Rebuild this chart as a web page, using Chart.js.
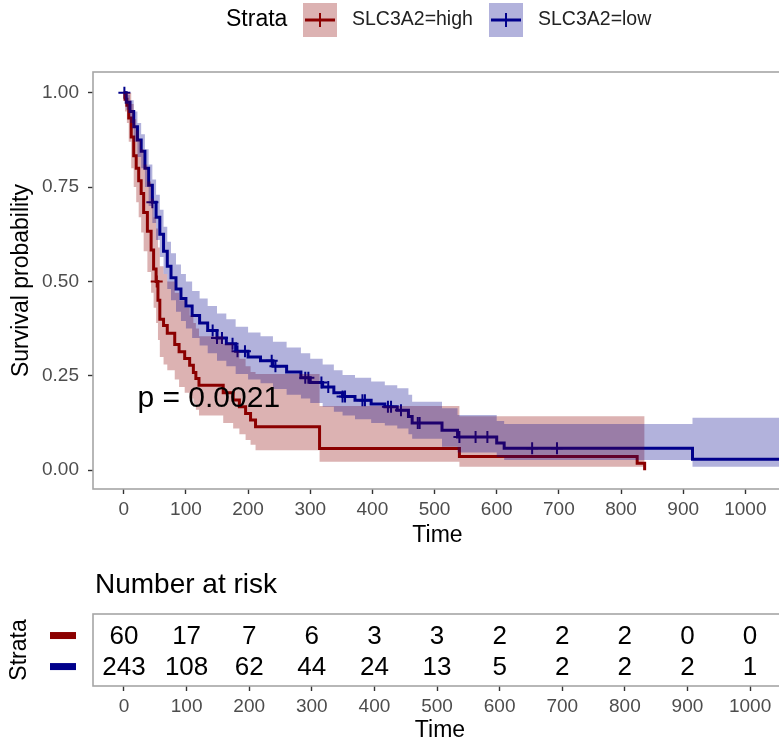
<!DOCTYPE html>
<html>
<head>
<meta charset="utf-8">
<script src="https://cdn.jsdelivr.net/npm/chart.js@4.4.0/dist/chart.umd.min.js"></script>
<style>
html, body { margin:0; padding:0; background:#fff; overflow:hidden; width:779px; height:749px; }
#wrapPlot { position:absolute; left:0; top:0; width:790px; height:560px; }
#wrapRisk { position:absolute; left:0; top:560px; width:790px; height:189px; }
</style>
</head>
<body>
<div id="wrapPlot"><canvas id="canvasPlot" width="790" height="560"></canvas></div>
<div id="wrapRisk"><canvas id="canvasRisk" width="790" height="189"></canvas></div>
<script>
// SLC3A2=high  (KM steps)
var highTime  = [0, 2, 5, 8, 12, 16, 20, 24, 28, 32, 38, 44, 48, 52, 55, 58, 64, 70, 82, 89, 98, 106, 112, 116, 121, 160, 176, 186, 196, 204, 212, 315, 540, 826, 838];
var highSurv  = [1.0, .983, .967, .933, .883, .833, .800, .767, .733, .683, .633, .583, .533, .500, .450, .400, .383, .363, .333, .314, .296, .278, .259, .243, .225, .205, .186, .168, .150, .133, .115, .057, .036, .018, 0];
var highUpper = [1, 1, 1, 1, .97, .93, .90, .875, .85, .81, .765, .72, .67, .64, .59, .54, .52, .50, .47, .45, .43, .41, .39, .375, .355, .335, .315, .295, .275, .26, .255, .17, .143, .143, .143];
var highLower = [1, .95, .92, .87, .80, .75, .71, .67, .63, .58, .525, .47, .43, .39, .345, .30, .28, .265, .24, .22, .205, .19, .175, .16, .145, .125, .11, .095, .08, .067, .053, .022, .009, .009, .009];
var highCensor = [53];

// SLC3A2=low
var lowTime  = [0, 4, 10, 16, 22, 28, 34, 40, 46, 52, 58, 64, 70, 76, 84, 92, 100, 110, 122, 135, 150, 165, 180, 200, 220, 240, 262, 285, 300, 320, 338, 352, 372, 398, 420, 440, 458, 464, 512, 537, 600, 612, 915, 1070];
var lowSurv  = [1.00, .975, .95, .91, .875, .845, .80, .755, .71, .67, .625, .58, .54, .51, .48, .455, .435, .41, .39, .37, .35, .335, .315, .30, .29, .275, .26, .245, .232, .22, .205, .195, .185, .175, .168, .159, .142, .125, .106, .088, .072, .058, .029, .029];
var lowUpper = [1.00, .995, .98, .95, .92, .89, .85, .81, .77, .73, .69, .645, .605, .575, .545, .52, .50, .475, .455, .435, .415, .40, .38, .365, .355, .34, .325, .31, .295, .28, .265, .252, .245, .235, .225, .217, .2, .181, .164, .146, .13, .122, .139, .139];
var lowLower = [1.00, .955, .92, .87, .83, .80, .75, .70, .655, .61, .565, .52, .48, .45, .42, .395, .375, .35, .33, .31, .29, .275, .255, .24, .23, .215, .20, .19, .178, .168, .155, .145, .135, .125, .118, .11, .095, .083, .062, .047, .035, .027, .009, .009];
var lowCensor = [1, 46, 143, 150, 158, 175, 183, 195, 238, 244, 292, 297, 318, 329, 352, 356, 384, 388, 425, 430, 446, 473, 476, 540, 566, 585, 657, 697];

// number at risk
var riskTimes = [0, 100, 200, 300, 400, 500, 600, 700, 800, 900, 1000];
var riskHigh  = [60, 17, 7, 6, 3, 3, 2, 2, 2, 0, 0];
var riskLow   = [243, 108, 62, 44, 24, 13, 5, 2, 2, 2, 1];

var xTicks = [0, 100, 200, 300, 400, 500, 600, 700, 800, 900, 1000];
var yTicks = [0, 0.25, 0.5, 0.75, 1];
var strataNames = ['SLC3A2=high', 'SLC3A2=low'];
var pText = 'p = 0.0021';
var pPos = [22, 0.19];

var FONT = '"Liberation Sans", Arial, Helvetica, sans-serif';
var colHigh = '#8B0000', colLow = '#00008B';
var bandHigh = 'rgba(139,0,0,0.3)', bandLow = 'rgba(0,0,139,0.3)';
var none = 'rgba(0,0,0,0)';

function toPoints(times, vals){
	return times.map(function(t, i){ return {x: t, y: vals[i]}; });
}
function survAt(times, surv, t){
	var s = surv[0];
	for (var i = 0; i < times.length; i++){ if (times[i] <= t) s = surv[i]; }
	return s;
}
function censorPoints(cens, times, surv){
	return cens.map(function(t){ return {x: t, y: survAt(times, surv, t)}; });
}
function setTicks(vals){
	return function(scale){ scale.ticks = vals.map(function(v){ return {value: v}; }); };
}

var xScale = function(h){
	return {
		type: 'linear', min: -49.5, max: 1059,
		afterBuildTicks: setTicks(xTicks),
		afterFit: function(s){ s.height = h; },
		border: {display: false},
		grid: {drawOnChartArea: false, tickLength: 5, tickColor: '#333', tickWidth: 1.4},
		ticks: {font: {family: FONT, size: 19}, color: '#4d4d4d', padding: 4, maxRotation: 0, autoSkip: false,
			callback: function(v){ return v; }}
	};
};

var plotDecor = {
	id: 'plotDecor',
	afterDraw: function(chart){
		var ctx = chart.ctx, ca = chart.chartArea;
		var xs = chart.scales.x, ys = chart.scales.y;
		ctx.save();
		ctx.strokeStyle = '#a6a6a6';
		ctx.lineWidth = 1.6;
		ctx.strokeRect(ca.left, ca.top, ca.right - ca.left, ca.bottom - ca.top);

		ctx.fillStyle = '#000';
		ctx.textBaseline = 'middle';
		ctx.textAlign = 'left';
		ctx.font = '30px ' + FONT;
		ctx.fillText(pText, xs.getPixelForValue(pPos[0]), ys.getPixelForValue(pPos[1]));

		// axis titles
		ctx.font = '23px ' + FONT;
		ctx.textAlign = 'center';
		ctx.fillText('Time', (ca.left + ca.right) / 2, 536);
		ctx.save();
		ctx.translate(22, (ca.top + ca.bottom) / 2);
		ctx.rotate(-Math.PI / 2);
		ctx.fillText('Survival probability', 0, 0);
		ctx.restore();

		// legend
		ctx.textAlign = 'left';
		ctx.font = '23px ' + FONT;
		ctx.fillStyle = '#000';
		ctx.fillText('Strata', 226, 20);
		var keys = [{x: 303, band: bandHigh, col: colHigh, tx: 352}, {x: 489, band: bandLow, col: colLow, tx: 538}];
		keys.forEach(function(k, i){
			ctx.fillStyle = k.band;
			ctx.fillRect(k.x, 3, 34, 34);
			ctx.strokeStyle = k.col;
			ctx.lineWidth = 3;
			ctx.beginPath(); ctx.moveTo(k.x + 2, 20); ctx.lineTo(k.x + 32, 20); ctx.stroke();
			ctx.lineWidth = 2;
			ctx.beginPath(); ctx.moveTo(k.x + 17, 13); ctx.lineTo(k.x + 17, 27); ctx.stroke();
			ctx.fillStyle = '#222';
			ctx.font = '19.5px ' + FONT;
			ctx.fillText(strataNames[i], k.tx, 20);
		});
		ctx.restore();
	}
};

var plotChart = new Chart(document.getElementById('canvasPlot').getContext('2d'), {
	type: 'line',
	data: {
		datasets: [
			{label: 'low upper', data: toPoints(lowTime, lowUpper), fill: '+1', backgroundColor: bandLow, borderColor: none, borderWidth: 0, pointRadius: 0, stepped: true, order: 0},
			{label: 'low lower', data: toPoints(lowTime, lowLower), fill: false, borderColor: none, borderWidth: 0, pointRadius: 0, stepped: true, order: 0},
			{label: 'high upper', data: toPoints(highTime, highUpper), fill: '+1', backgroundColor: bandHigh, borderColor: none, borderWidth: 0, pointRadius: 0, stepped: true, order: 0},
			{label: 'high lower', data: toPoints(highTime, highLower), fill: false, borderColor: none, borderWidth: 0, pointRadius: 0, stepped: true, order: 0},
			{label: strataNames[1], data: toPoints(lowTime, lowSurv), borderColor: colLow, borderWidth: 3, pointRadius: 0, stepped: true, fill: false, order: 1},
			{label: strataNames[0], data: toPoints(highTime, highSurv), borderColor: colHigh, borderWidth: 3, pointRadius: 0, stepped: true, fill: false, order: 1},
			{label: 'low censor', data: censorPoints(lowCensor, lowTime, lowSurv), showLine: false, pointStyle: 'cross', pointRadius: 6, pointBorderWidth: 2, pointBorderColor: colLow, pointBackgroundColor: colLow, order: 1},
			{label: 'high censor', data: censorPoints(highCensor, highTime, highSurv), showLine: false, pointStyle: 'cross', pointRadius: 6, pointBorderWidth: 2, pointBorderColor: colHigh, pointBackgroundColor: colHigh, order: 1}
		]
	},
	options: {
		responsive: false,
		animation: false,
		layout: {padding: {top: 72, right: 3, left: 0, bottom: 0}},
		plugins: {legend: {display: false}, tooltip: {enabled: false}},
		scales: {
			x: xScale(71),
			y: {
				type: 'linear', min: -0.05, max: 1.055,
				afterBuildTicks: setTicks(yTicks),
				afterFit: function(s){ s.width = 93; },
				border: {display: false},
				grid: {drawOnChartArea: false, tickLength: 5, tickColor: '#333', tickWidth: 1.4},
				ticks: {font: {family: FONT, size: 19}, color: '#4d4d4d', padding: 9,
					callback: function(v){ return v.toFixed(2); }}
			}
		}
	},
	plugins: [plotDecor]
});

// risk table
var rowHigh = 2, rowLow = 1;
var riskDecor = {
	id: 'riskDecor',
	afterDatasetsDraw: function(chart){
		var ctx = chart.ctx;
		ctx.save();
		ctx.fillStyle = '#000';
		ctx.font = '26px ' + FONT;
		ctx.textAlign = 'center';
		ctx.textBaseline = 'middle';
		chart.data.datasets.forEach(function(ds, di){
			var meta = chart.getDatasetMeta(di);
			meta.data.forEach(function(el, i){
				ctx.fillText(String(ds.counts[i]), el.x, el.y + 1);
			});
		});
		ctx.restore();
	},
	afterDraw: function(chart){
		var ctx = chart.ctx, ca = chart.chartArea, ys = chart.scales.y;
		ctx.save();
		ctx.strokeStyle = '#a6a6a6';
		ctx.lineWidth = 1.6;
		ctx.strokeRect(ca.left, ca.top, ca.right - ca.left, ca.bottom - ca.top);
		ctx.fillStyle = '#000';
		ctx.textBaseline = 'middle';
		ctx.textAlign = 'left';
		ctx.font = '28px ' + FONT;
		ctx.fillText('Number at risk', 95, 25);
		ctx.font = '23px ' + FONT;
		ctx.textAlign = 'center';
		ctx.fillText('Time', (ca.left + ca.right) / 2, 171);
		ctx.save();
		ctx.translate(20, (ca.top + ca.bottom) / 2);
		ctx.rotate(-Math.PI / 2);
		ctx.fillText('Strata', 0, 0);
		ctx.restore();
		ctx.fillStyle = colHigh;
		ctx.fillRect(50, ys.getPixelForValue(rowHigh) - 4, 26, 7);
		ctx.fillStyle = colLow;
		ctx.fillRect(50, ys.getPixelForValue(rowLow) - 4, 26, 7);
		ctx.restore();
	}
};

var riskChart = new Chart(document.getElementById('canvasRisk').getContext('2d'), {
	type: 'scatter',
	data: {
		datasets: [
			{label: strataNames[0], data: riskTimes.map(function(t){ return {x: t, y: rowHigh}; }), counts: riskHigh, pointRadius: 0},
			{label: strataNames[1], data: riskTimes.map(function(t){ return {x: t, y: rowLow}; }), counts: riskLow, pointRadius: 0}
		]
	},
	options: {
		responsive: false,
		animation: false,
		layout: {padding: {top: 54, right: 3, left: 0, bottom: 0}},
		plugins: {legend: {display: false}, tooltip: {enabled: false}},
		scales: {
			x: xScale(63),
			y: {
				type: 'linear', min: 0.39, max: 2.71,
				afterFit: function(s){ s.width = 93; },
				border: {display: false},
				grid: {display: false},
				ticks: {display: false}
			}
		}
	},
	plugins: [riskDecor]
});
</script>
</body>
</html>
